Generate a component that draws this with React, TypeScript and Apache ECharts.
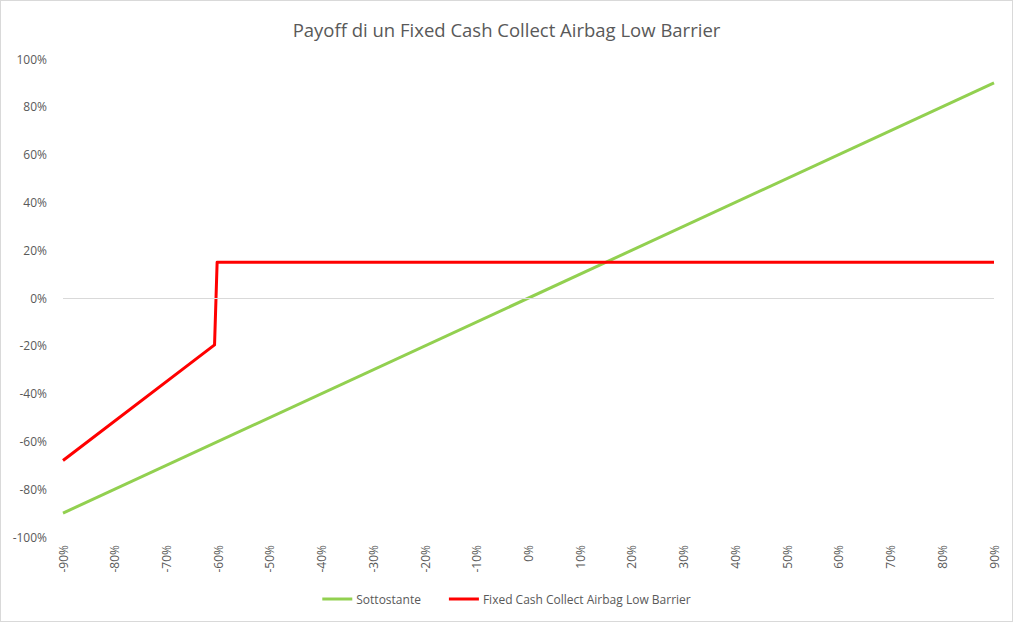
import React, { useEffect, useRef } from "react";
import * as echarts from "echarts";

const TITLE = "Payoff di un Fixed Cash Collect Airbag Low Barrier";
const SERIES_NAMES = ["Sottostante", "Fixed Cash Collect Airbag Low Barrier"];
// [underlying %, payoff %]
const UNDERLYING: [number, number][] = [
  [-90, -90],
  [90, 90],
];
const CERTIFICATE: [number, number][] = [
  [-90, -68],
  [-60.7, -19.6],
  [-60.2, 15],
  [90, 15],
];
const X_MIN = -90;
const X_MAX = 90;
const Y_MIN = -100;
const Y_MAX = 100;
const STEP_X = 10;
const STEP_Y = 20;

const TEXT = "#595959";
const FONT = "'Open Sans', 'Noto Sans', sans-serif";

export default function App() {
  const ref = useRef<HTMLDivElement>(null);
  useEffect(() => {
    if (!ref.current) return;
    const chart = echarts.init(ref.current, undefined, { renderer: "svg" });
    chart.setOption({
      animation: false,
      backgroundColor: "#ffffff",
      title: {
        text: TITLE,
        left: "center",
        top: 14,
        textStyle: { color: TEXT, fontSize: 18.5, fontWeight: "normal", fontFamily: FONT },
      },
      legend: {
        bottom: 11,
        left: "center",
        itemWidth: 30,
        itemHeight: 3,
        itemGap: 28,
        icon: "rect",
        textStyle: { color: TEXT, fontSize: 12, fontFamily: FONT, padding: [0, 0, 0, -1] },
        data: SERIES_NAMES,
      },
      grid: { left: 62, right: 18, top: 58, bottom: 84, containLabel: false },
      xAxis: {
        type: "value",
        min: X_MIN,
        max: X_MAX,
        interval: STEP_X,
        axisLine: { show: false },
        axisTick: { show: false },
        splitLine: { show: false },
        axisLabel: {
          rotate: 90,
          color: TEXT,
          fontSize: 12,
          fontFamily: FONT,
          margin: 8,
          formatter: (v: number) => `${v}%`,
        },
      },
      yAxis: {
        type: "value",
        min: Y_MIN,
        max: Y_MAX,
        interval: STEP_Y,
        axisLine: { show: false },
        axisTick: { show: false },
        splitLine: { show: false },
        axisLabel: {
          color: TEXT,
          fontSize: 12,
          fontFamily: FONT,
          margin: 16,
          formatter: (v: number) => `${v}%`,
        },
      },
      series: [
        {
          name: SERIES_NAMES[0],
          type: "line",
          data: UNDERLYING,
          symbol: "none",
          lineStyle: { color: "#92D050", width: 3 },
          itemStyle: { color: "#92D050" },
          markLine: {
            silent: true,
            symbol: "none",
            label: { show: false },
            lineStyle: { color: "#d9d9d9", width: 1, type: "solid" },
            data: [{ yAxis: 0 }],
          },
          z: 2,
        },
        {
          name: SERIES_NAMES[1],
          type: "line",
          data: CERTIFICATE,
          symbol: "none",
          lineStyle: { color: "#FF0000", width: 3, join: "round" },
          itemStyle: { color: "#FF0000" },
          z: 3,
        },
      ],
    });
    return () => chart.dispose();
  }, []);
  return (
    <div
      style={{
        position: "fixed",
        left: 0,
        top: 0,
        width: 1013,
        height: 622,
        boxSizing: "border-box",
        border: "1px solid #d9d9d9",
        background: "#fff",
      }}
    >
      <div ref={ref} style={{ width: 1011, height: 620 }} />
    </div>
  );
}
